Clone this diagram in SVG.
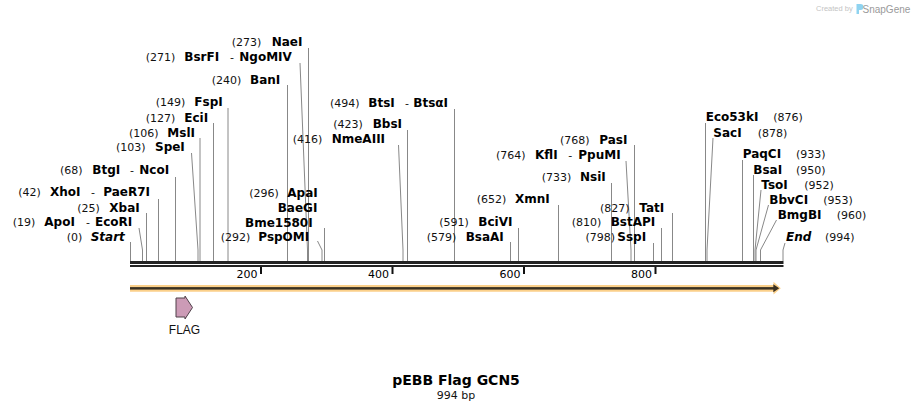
<svg xmlns="http://www.w3.org/2000/svg" width="914" height="411" viewBox="0 0 914 411">
<style>
.b{font-family:"DejaVu Sans",Verdana,sans-serif;font-weight:bold;font-size:12px;fill:#000}
.bi{font-family:"DejaVu Sans",Verdana,sans-serif;font-weight:bold;font-style:italic;font-size:12px;fill:#000}
.n{font-family:"DejaVu Sans",Verdana,sans-serif;font-size:11px;fill:#111}
.t{font-family:"DejaVu Sans",Verdana,sans-serif;font-size:11px;fill:#000;text-anchor:end}
#connectors polyline{fill:none;stroke:#888;stroke-width:1}
.tick{fill:#111}
</style>
<rect x="0" y="0" width="914" height="411" fill="#fff"/>

<g id="watermark">
<text x="816" y="11" font-family="Liberation Sans,Arial,sans-serif" font-size="7.5" fill="#c4c4c4">Created by</text>
<path d="M856.5,4 h4 a3,3 0 0 1 0,6 h-1.5 v4 h-2.5 z" fill="#8fd3f0"/>
<text x="862.5" y="12.5" font-family="Liberation Sans,Arial,sans-serif" font-size="10" fill="#9a9a9a">SnapGene</text>
</g>

<g id="sequence">
<rect x="130" y="261" width="653.5" height="3" fill="#222"/>
<rect x="130" y="265" width="653.5" height="2" fill="#222"/>
<rect class="tick" x="260" y="267" width="2" height="7"/>
<rect class="tick" x="391.5" y="267" width="2" height="7"/>
<rect class="tick" x="523" y="267" width="2" height="7"/>
<rect class="tick" x="654.5" y="267" width="2" height="7"/>
<text class="t" x="257.5" y="278">200</text>
<text class="t" x="389" y="278">400</text>
<text class="t" x="520.5" y="278">600</text>
<text class="t" x="652" y="278">800</text>
</g>

<g id="feature-backbone">
<polygon points="130,285 773.5,285 773.5,281.8 780.8,288.3 773.5,294.5 773.5,291.7 130,291.7" fill="#fbd08a"/>
<rect x="130" y="287.1" width="644" height="2.5" fill="#3a3122"/>
<polygon points="773.3,284.3 779.2,288.3 773.3,292.3" fill="#3a3122"/>
</g>

<g id="feature-FLAG">
<polygon points="176,298 185,298 185,296 192.5,307.5 185,319 185,317 176,317" fill="#cc9bb6" stroke="#4f4049" stroke-width="1"/>
<text x="184.5" y="333.5" font-family="Liberation Sans,Arial,sans-serif" font-size="12" fill="#111" text-anchor="middle">FLAG</text>
</g>

<g id="connectors">
<polyline points="130.5,242 130.5,261"/>
<polyline points="139,228 142.5,250 142.5,261"/>
<polyline points="146.5,213 146.5,261"/>
<polyline points="158.5,199 158.5,261"/>
<polyline points="175.5,177 175.5,261"/>
<polyline points="191.5,153 198,250 198,261"/>
<polyline points="200,138 200,261"/>
<polyline points="213.5,123 213.5,261"/>
<polyline points="228,108 228,261"/>
<polyline points="287.5,85 287.5,261"/>
<polyline points="300,63 307.5,250 307.5,261"/>
<polyline points="308.5,48 308.5,261"/>
<polyline points="324.5,228 324.5,261"/>
<polyline points="317.5,241 322,250 322,261"/>
<polyline points="398.5,145 403,250 403,261"/>
<polyline points="407.5,130 407.5,261"/>
<polyline points="454.5,109 454.5,261"/>
<polyline points="510.5,242 510.5,261"/>
<polyline points="518.5,228 518.5,261"/>
<polyline points="558.5,205 558.5,261"/>
<polyline points="611.5,183 611.5,261"/>
<polyline points="626,161 631,250 631,261"/>
<polyline points="634.5,145 634.5,261"/>
<polyline points="653.5,243 653.5,261"/>
<polyline points="661.5,228 661.5,261"/>
<polyline points="672.5,213 672.5,261"/>
<polyline points="705.5,123 705.5,261"/>
<polyline points="713,138 707,250 707,261"/>
<polyline points="742.5,160 742.5,261"/>
<polyline points="753.5,175 753.5,261"/>
<polyline points="761,190 755,250 755,261"/>
<polyline points="768.5,205 756,250 756,261"/>
<polyline points="776.5,220 760.5,250 760.5,261"/>
<polyline points="785,243 783,250 783,261"/>
</g>

<g id="site-NaeI"><text class="n" x="231.7" y="46">(273)</text><text class="b" x="271.7" y="46">NaeI</text></g>
<g id="site-BsrFI"><text class="n" x="145.7" y="61">(271)</text><text class="b" x="184.3" y="61">BsrFI</text><text class="n" x="230" y="61">-</text><text class="b" x="239.3" y="61">NgoMIV</text></g>
<g id="site-BanI"><text class="n" x="211.7" y="84">(240)</text><text class="b" x="250" y="84">BanI</text></g>
<g id="site-FspI"><text class="n" x="155.7" y="106">(149)</text><text class="b" x="194.3" y="106">FspI</text></g>
<g id="site-EciI"><text class="n" x="145.7" y="122">(127)</text><text class="b" x="184.3" y="122">EciI</text></g>
<g id="site-MslI"><text class="n" x="129" y="137">(106)</text><text class="b" x="167.3" y="137">MslI</text></g>
<g id="site-SpeI"><text class="n" x="116" y="150.5">(103)</text><text class="b" x="155" y="150.5">SpeI</text></g>
<g id="site-BtgI"><text class="n" x="60" y="174">(68)</text><text class="b" x="92.3" y="174">BtgI</text><text class="n" x="130" y="174">-</text><text class="b" x="139.3" y="174">NcoI</text></g>
<g id="site-XhoI"><text class="n" x="18.3" y="196">(42)</text><text class="b" x="50" y="196">XhoI</text><text class="n" x="91" y="196">-</text><text class="b" x="103.3" y="196">PaeR7I</text></g>
<g id="site-XbaI"><text class="n" x="77.3" y="211.5">(25)</text><text class="b" x="109.3" y="211.5">XbaI</text></g>
<g id="site-ApoI"><text class="n" x="12.7" y="225.5">(19)</text><text class="b" x="44.3" y="225.5">ApoI</text><text class="n" x="86" y="225.5">-</text><text class="b" x="95" y="225.5">EcoRI</text></g>
<g id="site-Start"><text class="n" x="66.7" y="240.5">(0)</text><text class="bi" x="90.7" y="240.5">Start</text></g>
<g id="site-ApaI"><text class="n" x="249.3" y="197">(296)</text><text class="b" x="287.3" y="197">ApaI</text><text class="b" x="277.7" y="211.5">BaeGI</text><text class="b" x="245" y="226.5">Bme1580I</text></g>
<g id="site-PspOMI"><text class="n" x="220.7" y="240.5">(292)</text><text class="b" x="258.3" y="240.5">PspOMI</text></g>
<g id="site-BtsI"><text class="n" x="330" y="107">(494)</text><text class="b" x="368.3" y="107">BtsI</text><text class="n" x="405" y="107">-</text><text class="b" x="413.3" y="107">BtsαI</text></g>
<g id="site-BbsI"><text class="n" x="333.3" y="127.5">(423)</text><text class="b" x="372.7" y="127.5">BbsI</text></g>
<g id="site-NmeAIII"><text class="n" x="292.7" y="142.5">(416)</text><text class="b" x="331.7" y="142.5">NmeAIII</text></g>
<g id="site-XmnI"><text class="n" x="476.7" y="202.5">(652)</text><text class="b" x="515" y="202.5">XmnI</text></g>
<g id="site-BciVI"><text class="n" x="439.3" y="226">(591)</text><text class="b" x="478.3" y="226">BciVI</text></g>
<g id="site-BsaAI"><text class="n" x="426.7" y="241">(579)</text><text class="b" x="465.7" y="241">BsaAI</text></g>
<g id="site-NsiI"><text class="n" x="541.7" y="181">(733)</text><text class="b" x="580" y="181">NsiI</text></g>
<g id="site-KflI"><text class="n" x="496" y="158.5">(764)</text><text class="b" x="535" y="158.5">KflI</text><text class="n" x="568.3" y="158.5">-</text><text class="b" x="578.3" y="158.5">PpuMI</text></g>
<g id="site-PasI"><text class="n" x="560" y="143.5">(768)</text><text class="b" x="599.3" y="143.5">PasI</text></g>
<g id="site-TatI"><text class="n" x="600" y="211.5">(827)</text><text class="b" x="639.3" y="211.5">TatI</text></g>
<g id="site-BstAPI"><text class="n" x="571.7" y="226">(810)</text><text class="b" x="610.7" y="226">BstAPI</text></g>
<g id="site-SspI"><text class="n" x="585.5" y="241">(798)</text><text class="b" x="617.3" y="241">SspI</text></g>
<g id="site-Eco53kI"><text class="b" x="705.7" y="121">Eco53kI</text><text class="n" x="773.3" y="121">(876)</text></g>
<g id="site-SacI"><text class="b" x="713.3" y="136.5">SacI</text><text class="n" x="757.7" y="136.5">(878)</text></g>
<g id="site-PaqCI"><text class="b" x="742.7" y="157.5">PaqCI</text><text class="n" x="796" y="157.5">(933)</text></g>
<g id="site-BsaI"><text class="b" x="753.3" y="173.5">BsaI</text><text class="n" x="796" y="173.5">(950)</text></g>
<g id="site-TsoI"><text class="b" x="761.3" y="188.5">TsoI</text><text class="n" x="804.3" y="188.5">(952)</text></g>
<g id="site-BbvCI"><text class="b" x="769.3" y="203.5">BbvCI</text><text class="n" x="823.3" y="203.5">(953)</text></g>
<g id="site-BmgBI"><text class="b" x="777.7" y="218.5">BmgBI</text><text class="n" x="836.7" y="218.5">(960)</text></g>
<g id="site-End"><text class="bi" x="786" y="241">End</text><text class="n" x="825" y="241">(994)</text></g>

<g id="title">
<text x="456" y="385" font-family="DejaVu Sans,Verdana,sans-serif" font-weight="bold" font-size="14" text-anchor="middle" fill="#000">pEBB Flag GCN5</text>
<text x="456" y="399" font-family="DejaVu Sans,Verdana,sans-serif" font-size="11" text-anchor="middle" fill="#111">994 bp</text>
</g>
</svg>
